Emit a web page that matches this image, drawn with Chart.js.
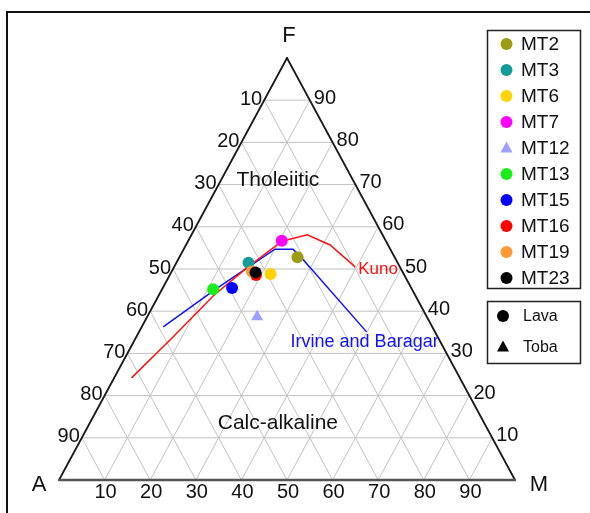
<!DOCTYPE html>
<html>
<head>
<meta charset="utf-8">
<script src="https://cdn.jsdelivr.net/npm/chart.js@4.4.0/dist/chart.umd.min.js"></script>
<style>
  body { margin: 0; background: #fff; }
  canvas { display: block; }
</style>
</head>
<body>
<canvas id="afm" width="590" height="513"></canvas>
<script>
// samples, in legend order; F and M are percent of the A-F-M sum
const sampleNames = ["MT2", "MT3", "MT6", "MT7", "MT12", "MT13", "MT15", "MT16", "MT19", "MT23"];
const sampleColors = ["#9c9c14", "#169b9b", "#ffd400", "#ff00ff", "#9f9fff", "#1aee1a", "#0000ff", "#ff0000", "#ff9933", "#000000"];
const sampleShapes = ["circle", "circle", "circle", "circle", "triangle", "circle", "circle", "circle", "circle", "circle"];
const sampleF = [52.8, 51.5, 48.8, 56.7, 38.7, 45.2, 45.5, 48.6, 49.4, 49.2];
const sampleM = [25.9, 15.8, 22.0, 20.5, 24.1, 11.2, 15.2, 18.9, 17.6, 18.5];

// dividing lines
const kunoF = [24.2, 33.7, 43.6, 50.5, 56.6, 58.1, 55.7, 50.5];
const kunoM = [3.8, 8.0, 12.0, 16.2, 20.6, 25.4, 31.6, 39.7];
const irvineF = [36.3, 45.4, 54.7, 54.7, 51.7, 35.1];
const irvineM = [4.7, 11.9, 20.0, 24.0, 28.1, 49.9];

const tickValues = [10, 20, 30, 40, 50, 60, 70, 80, 90];
const rockTypes = ["Lava", "Toba"];

const FONT = "'Liberation Sans', Arial, sans-serif";

// ternary (F, M in %) -> cartesian in the unit triangle
function toXY(f, m) {
  return { x: (m + f / 2) / 100, y: f / 100 };
}

const sampleSets = sampleNames.map((name, i) => ({
  type: "scatter",
  label: name,
  data: [toXY(sampleF[i], sampleM[i])],
  backgroundColor: sampleColors[i],
  borderColor: sampleColors[i],
  borderWidth: 0,
  pointStyle: sampleShapes[i],
  pointRadius: sampleShapes[i] === "triangle" ? 7 : 6,
  order: sampleNames.length - i
}));

const lineSets = [
  { f: kunoF, m: kunoM, color: "#ff1010", label: "Kuno" },
  { f: irvineF, m: irvineM, color: "#1010ff", label: "Irvine and Baragar" }
].map(l => ({
  type: "line",
  label: l.label,
  data: l.f.map((f, i) => toXY(f, l.m[i])),
  borderColor: l.color,
  borderWidth: 1.5,
  pointRadius: 0,
  fill: false,
  tension: 0,
  order: 50
}));

const ternaryGrid = {
  id: "ternaryGrid",
  beforeDatasetsDraw(chart) {
    const { ctx, scales: { x, y } } = chart;
    const P = (f, m) => { const q = toXY(f, m); return [x.getPixelForValue(q.x), y.getPixelForValue(q.y)]; };
    const seg = (a, b) => { ctx.beginPath(); ctx.moveTo(a[0], a[1]); ctx.lineTo(b[0], b[1]); ctx.stroke(); };
    ctx.save();
    ctx.strokeStyle = "#c2c2c2";
    ctx.lineWidth = 1;
    tickValues.forEach(v => {
      seg(P(v, 0), P(v, 100 - v));      // constant F
      seg(P(0, v), P(100 - v, v));      // constant M
      seg(P(0, 100 - v), P(100 - v, 0)); // constant A
    });
    ctx.lineCap = "round";
    ctx.strokeStyle = "#1a1a1a";
    ctx.lineWidth = 1.8;
    seg(P(0, 0), P(100, 0));
    seg(P(100, 0), P(0, 100));
    ctx.strokeStyle = "#555";
    ctx.lineWidth = 2.4;
    seg(P(0, 0), P(0, 100));
    ctx.restore();
  },
  afterDraw(chart) {
    const { ctx, scales: { x, y } } = chart;
    const P = (f, m) => { const q = toXY(f, m); return [x.getPixelForValue(q.x), y.getPixelForValue(q.y)]; };
    ctx.save();
    ctx.fillStyle = "#111";
    ctx.textBaseline = "middle";
    ctx.font = "20px " + FONT;
    tickValues.forEach(v => {
      let p = P(100 - v, 0);             // left side: A
      ctx.textAlign = "right";
      ctx.fillText(String(v), p[0] - 2, p[1] - 1);
      p = P(v, 100 - v);                 // right side: F
      ctx.textAlign = "left";
      ctx.fillText(String(v), p[0] + 4, p[1] - 2);
      p = P(0, v);                       // base: M
      ctx.textAlign = "center";
      ctx.fillText(String(v), p[0] + 1, p[1] + 12);
    });
    ctx.font = "22px " + FONT;
    ctx.textAlign = "center";
    let p = P(100, 0);
    ctx.fillText("F", p[0] + 2, p[1] - 22);
    p = P(0, 0);
    ctx.fillText("A", p[0] - 20, p[1] + 5);
    p = P(0, 100);
    ctx.fillText("M", p[0] + 24, p[1] + 5);

    // field names
    ctx.font = "21px " + FONT;
    ctx.fillText("Tholeiitic", x.getPixelForValue(0.48), y.getPixelForValue(0.711));
    ctx.fillText("Calc-alkaline", x.getPixelForValue(0.48), y.getPixelForValue(0.135));

    // line names
    ctx.font = "17px " + FONT;
    ctx.textAlign = "left";
    const kEnd = P(kunoF[kunoF.length - 1], kunoM[kunoM.length - 1]);
    ctx.fillStyle = "#ff1010";
    ctx.fillText("Kuno", kEnd[0] + 3, kEnd[1] + 2);
    const iEnd = P(irvineF[irvineF.length - 1], irvineM[irvineM.length - 1]);
    ctx.fillStyle = "#1010ff";
    ctx.font = "18px " + FONT;
    ctx.fillText("Irvine and Baragar", iEnd[0] - 76, iEnd[1] + 10);

    // outer frame
    ctx.strokeStyle = "#111";
    ctx.lineWidth = 2;
    ctx.beginPath();
    ctx.moveTo(7, 513);
    ctx.lineTo(7, 12);
    ctx.lineTo(590, 12);
    ctx.stroke();

    // legend of samples
    ctx.lineWidth = 1.5;
    ctx.strokeStyle = "#222";
    ctx.strokeRect(487.5, 30.5, 93, 258);
    ctx.font = "19px " + FONT;
    ctx.fillStyle = "#111";
    sampleNames.forEach((name, i) => {
      const cy = 44 + i * 26;
      ctx.fillStyle = sampleColors[i];
      drawMarker(ctx, sampleShapes[i], 506.5, cy, 6);
      ctx.fillStyle = "#111";
      ctx.fillText(name, 521, cy + 1);
    });

    // legend of rock types
    ctx.strokeRect(487.5, 301.5, 93, 62);
    ctx.font = "16px " + FONT;
    rockTypes.forEach((name, i) => {
      const cy = 316 + i * 31;
      ctx.fillStyle = "#000";
      drawMarker(ctx, i === 0 ? "circle" : "triangle", 503, cy, 6);
      ctx.fillStyle = "#111";
      ctx.fillText(name, 523, cy + 1);
    });
    ctx.restore();
  }
};

function drawMarker(ctx, shape, cx, cy, r) {
  ctx.beginPath();
  if (shape === "triangle") {
    ctx.moveTo(cx, cy - r * 1.1);
    ctx.lineTo(cx + r, cy + r * 0.75);
    ctx.lineTo(cx - r, cy + r * 0.75);
    ctx.closePath();
  } else {
    ctx.arc(cx, cy, r, 0, Math.PI * 2);
  }
  ctx.fill();
}

new Chart(document.getElementById("afm"), {
  type: "scatter",
  data: { datasets: [...lineSets, ...sampleSets] },
  options: {
    responsive: false,
    animation: false,
    layout: { padding: { left: 59, right: 75, top: 58, bottom: 33 } },
    scales: {
      x: { type: "linear", min: 0, max: 1, display: false },
      y: { type: "linear", min: 0, max: 1, display: false }
    },
    plugins: { legend: { display: false }, tooltip: { enabled: false } }
  },
  plugins: [ternaryGrid]
});
</script>
</body>
</html>
